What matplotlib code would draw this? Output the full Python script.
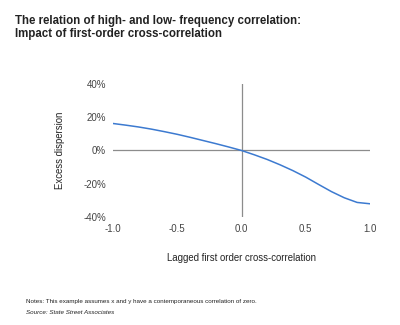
import matplotlib
matplotlib.use("Agg")
import matplotlib.pyplot as plt

plt.rcParams['font.family'] = ['Liberation Sans', 'DejaVu Sans']

x_vals = [-1.0, -0.9, -0.8, -0.7, -0.6, -0.5, -0.4, -0.3, -0.2, -0.1, 0.0,
          0.1, 0.2, 0.3, 0.4, 0.5, 0.6, 0.7, 0.8, 0.9, 1.0]
excess = [16.2, 15.2, 14.1, 12.8, 11.3, 9.7, 7.9, 6.0, 4.1, 2.1, 0.0,
          -2.6, -5.4, -8.6, -12.1, -16.0, -20.4, -24.7, -28.4, -31.2, -32.0]
x_ticks = [-1.0, -0.5, 0.0, 0.5, 1.0]
x_tick_labels = ['-1.0', '-0.5', '0.0', '0.5', '1.0']
y_ticks = [-40, -20, 0, 20, 40]
y_tick_labels = ['-40%', '-20%', '0%', '20%', '40%']

fig = plt.figure(figsize=(4.0, 3.25), dpi=100)
ax = fig.add_axes([0.2825, 0.332, 0.6425, 0.41])
ax.set_xlim(-1.0, 1.0)
ax.set_ylim(-40, 40)

ax.axhline(0, color='#8c8c8c', lw=0.9, zorder=1)
ax.axvline(0, color='#8c8c8c', lw=0.9, zorder=1)
ax.plot(x_vals, excess, color='#3c7ad0', lw=1.1, zorder=3)

for s in ax.spines.values():
    s.set_visible(False)
ax.set_xticks(x_ticks)
ax.set_xticklabels(x_tick_labels)
ax.set_yticks(y_ticks)
ax.set_yticklabels(y_tick_labels)
ax.tick_params(length=0, labelsize=7, colors='#444444')
ax.tick_params(axis='y', pad=5)
ax.tick_params(axis='x', pad=5)

ax.set_ylabel('Excess dispersion', fontsize=6.9, color='#222222', labelpad=13)
ax.set_xlabel('Lagged first order cross-correlation', fontsize=6.9,
              color='#222222', labelpad=14)

fig.text(0.037, 0.955, 'The relation of high- and low- frequency correlation:\nImpact of first-order cross-correlation',
         fontsize=8.3, fontweight='bold', color='#222222', va='top', ha='left',
         linespacing=1.1)
fig.text(0.065, 0.073, 'Notes: This example assumes x and y have a contemporaneous correlation of zero.',
         fontsize=4.5, color='#222222', ha='left', va='center')
fig.text(0.065, 0.037, 'Source: State Street Associates',
         fontsize=4.5, color='#222222', ha='left', va='center', style='italic')

fig.savefig('out.png', dpi=100)
